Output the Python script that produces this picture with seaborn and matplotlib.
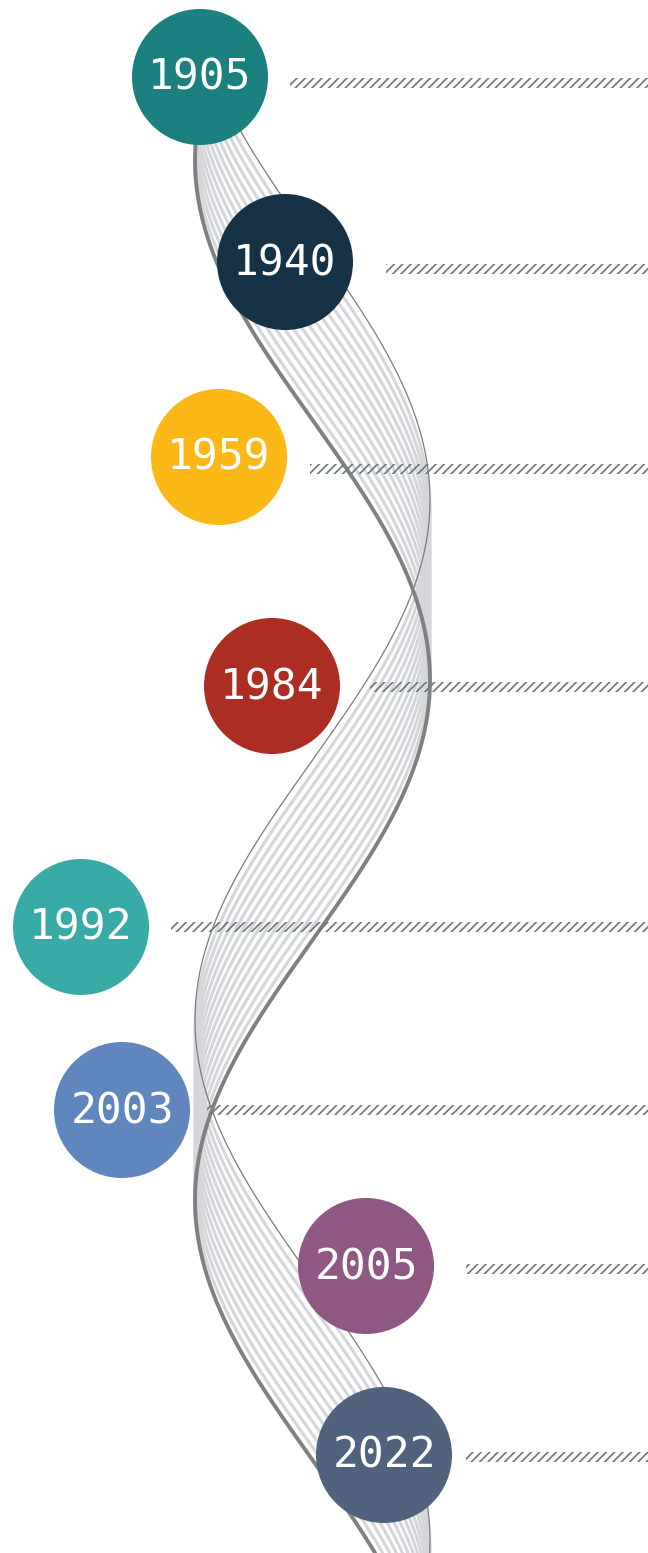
import numpy as np
import pandas as pd
import matplotlib.pyplot as plt
import seaborn as sns

# timeline data
years = ["1905", "1940", "1959", "1984", "1992", "2003", "2005", "2022"]
colors = ["#1c8080", "#153246", "#fbb817", "#ac2e22",
          "#39aba7", "#5f87be", "#8f5882", "#51627f"]

# layout (pixel coords, y grows downward)
circle_x = [200, 285, 219, 272, 81, 122, 366, 384]
circle_y = [77, 262, 457, 686, 927, 1110, 1266, 1455]
bar_start = [290, 386, 310, 370, 171, 207, 466, 466]
bar_y = [83, 269, 469, 687, 927, 1110, 1269, 1457]

# ribbon of sine strands
W, H = 648, 1553
center, amp, period = 312.5, 117.5, 1040
thin_peak, thick_peak = 500, 680
n_light = 13

sns.set_style("white")
plt.rcParams["hatch.linewidth"] = 1.25
plt.rcParams["hatch.color"] = "#6f7a80"

fig = plt.figure(figsize=(W / 100, H / 100), dpi=100)
ax = fig.add_axes([0, 0, 1, 1])

yy = np.linspace(77, H, 600)
rows = []
peaks = np.linspace(thin_peak, thick_peak, n_light + 2)
for i, p in enumerate(peaks):
    xs = center + amp * np.cos(2 * np.pi * (yy - p) / period)
    kind = "thin" if i == 0 else ("thick" if i == len(peaks) - 1 else "light")
    rows.append(pd.DataFrame({"x": xs, "y": yy, "strand": i, "kind": kind}))
strands = pd.concat(rows)

light = strands[strands.kind == "light"]
sns.lineplot(data=light, x="x", y="y", units="strand", estimator=None, sort=False,
             color="#d4d6d9", lw=2.2, ax=ax, zorder=1)
sns.lineplot(data=strands[strands.kind == "thin"], x="x", y="y", estimator=None,
             sort=False, color="#7b7b7b", lw=0.9, ax=ax, zorder=2)
sns.lineplot(data=strands[strands.kind == "thick"], x="x", y="y", estimator=None,
             sort=False, color="#808080", lw=2.8, ax=ax, zorder=2)

# hatched leader bars
for x0, y0 in zip(bar_start, bar_y):
    ax.barh(y0, W - x0, left=x0, height=10, color="none", edgecolor="#6f7a80",
            hatch="////", linewidth=0, zorder=3)

# year circles
sns.scatterplot(x=circle_x, y=circle_y, hue=years, palette=colors, s=9590,
                linewidth=0, legend=False, ax=ax, zorder=4)
for yr, cx, cy in zip(years, circle_x, circle_y):
    ax.text(cx, cy + 1, yr, color="white", fontsize=31, family="DejaVu Sans Mono",
            ha="center", va="center", zorder=5)

ax.set_xlim(0, W)
ax.set_ylim(H, 0)
ax.set_axis_off()
fig.savefig("out.png", dpi=100)
plt.close(fig)
